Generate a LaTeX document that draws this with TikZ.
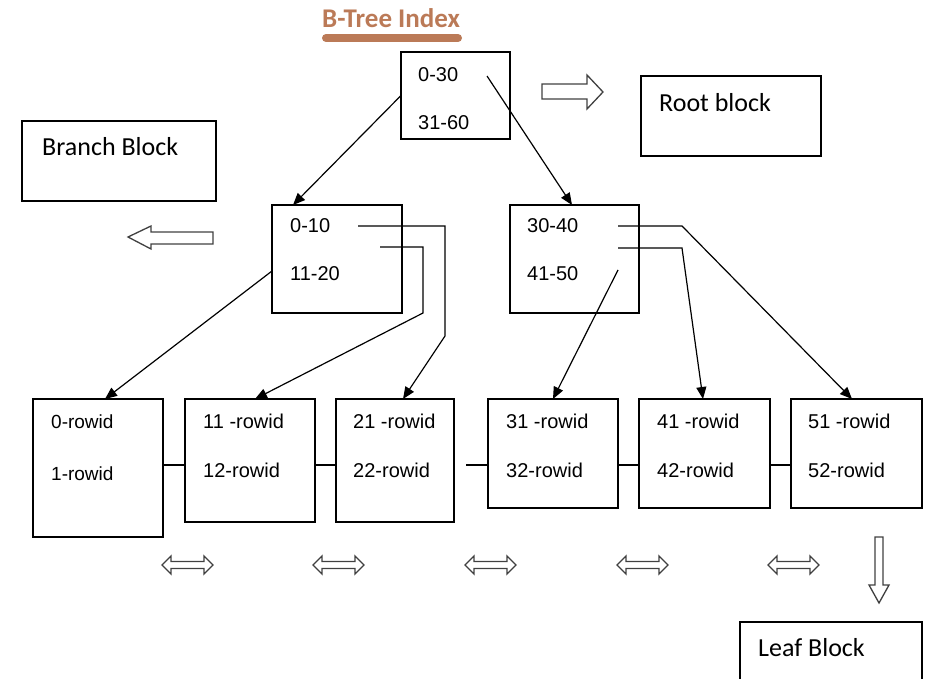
\documentclass[tikz,border=0pt]{standalone}
\usepackage{fontspec}
\setmainfont{Liberation Sans}
\newfontfamily\calibri{Carlito}
\usetikzlibrary{arrows.meta}
\definecolor{titlebrown}{RGB}{187,122,87}

\begin{document}
\begin{tikzpicture}[x=1pt, y=-1pt,
    box/.style={draw, line width=1.3pt, anchor=north west, inner sep=0pt, outer sep=0pt},
    lbl/.style={anchor=west, inner sep=0pt, font=\fontsize{20}{24}\selectfont},
    blk/.style={anchor=west, inner sep=0pt, font=\calibri\fontsize{26}{30}\selectfont},
    arr/.style={-{Triangle[length=12pt,width=10pt]}, line width=1.2pt},
    link/.style={line width=1.3pt},
    hollow/.style={draw=black!75, line width=1.3pt, line join=miter}]
  \useasboundingbox (0,0) rectangle (935,679);
  \clip (0,0) rectangle (935,679);

  % title
  \node[blk, font=\calibri\bfseries\fontsize{27}{32}\selectfont, text=titlebrown] (title) at (322,18) {B-Tree Index};
  \draw[titlebrown, line width=8pt, line cap=round] (326,38) -- (458,38);

  % index blocks
  \node[box, minimum width=109pt, minimum height=87pt] (root) at (401,52) {};
  \node[box, minimum width=130pt, minimum height=108pt] (br1) at (272,205) {};
  \node[box, minimum width=129pt, minimum height=108pt] (br2) at (510,205) {};
  \node[box, minimum width=130pt, minimum height=138pt] (leaf1) at (33,399) {};
  \node[box, minimum width=130pt, minimum height=123pt] (leaf2) at (185,399) {};
  \node[box, minimum width=118pt, minimum height=123pt] (leaf3) at (336,399) {};
  \node[box, minimum width=130pt, minimum height=109pt] (leaf4) at (488,399) {};
  \node[box, minimum width=131pt, minimum height=109pt] (leaf5) at (639,399) {};
  \node[box, minimum width=131pt, minimum height=109pt] (leaf6) at (791,399) {};

  \node[lbl] (rt1) at (418,75) {0-30};
  \node[lbl] (rt2) at (418,123) {31-60};
  \node[lbl] (b11) at (290,226) {0-10};
  \node[lbl] (b12) at (290,274) {11-20};
  \node[lbl] (b21) at (527,226) {30-40};
  \node[lbl] (b22) at (527,274) {41-50};
  \node[lbl, font=\fontsize{19}{23}\selectfont] (l11) at (51,422) {0-rowid};
  \node[lbl, font=\fontsize{19}{23}\selectfont] (l12) at (51,474) {1-rowid};
  \foreach \x/\a/\b [count=\i from 2] in {203/11 -rowid/12-rowid, 353/21 -rowid/22-rowid,
      506/31 -rowid/32-rowid, 657/41 -rowid/42-rowid, 808/51 -rowid/52-rowid} {
    \node[lbl] (l\i1) at (\x,421) {\a};
    \node[lbl] (l\i2) at (\x,470) {\b};
  }

  % legend blocks
  \node[box, minimum width=194pt, minimum height=80pt] (branchbox) at (22,121) {};
  \node[box, minimum width=180pt, minimum height=80pt] (rootbox) at (641,76) {};
  \node[box, minimum width=182pt, minimum height=80pt] (leafbox) at (740,622) {};
  \node[blk] (branchtxt) at (42,147) {Branch Block};
  \node[blk] (roottxt) at (659,103) {Root block};
  \node[blk] (leaftxt) at (758,648) {Leaf Block};

  % pointers
  \coordinate (p0030) at (487,76);
  \coordinate (p010a) at (358,226);
  \coordinate (p010b) at (380,247);
  \coordinate (p3040a) at (618,226);
  \coordinate (p3040b) at (618,248);
  \coordinate (p4150) at (618,270);
  \draw[arr] (root.west) -- ([xshift=21pt]br1.north west);
  \draw[arr] (p0030) -- ([xshift=62pt]br2.north west);
  \draw[arr] ([yshift=-12pt]br1.west) -- ([xshift=72pt]leaf1.north west);
  \draw[arr] (p010b) -| (423,313) -- ([xshift=70pt]leaf2.north west);
  \draw[arr] (p010a) -| (445,336) -- ([xshift=67pt]leaf3.north west);
  \draw[arr] (p4150) -- ([xshift=65pt]leaf4.north west);
  \draw[arr] (p3040b) -- (682,248) -- ([xshift=64pt]leaf5.north west);
  \draw[arr] (p3040a) -- (682,226) -- ([xshift=61pt]leaf6.north west);

  % leaf chain
  \coordinate (chain) at (0,465);
  \coordinate (gap) at (466,465);
  \draw[link] (leaf1.east |- chain) -- (leaf2.west |- chain);
  \draw[link] (leaf2.east |- chain) -- (leaf3.west |- chain);
  \draw[link] (gap) -- (leaf4.west |- chain);
  \draw[link] (leaf4.east |- chain) -- (leaf5.west |- chain);
  \draw[link] (leaf5.east |- chain) -- (leaf6.west |- chain);

  % hollow arrows
  \draw[hollow] (603,92) -- (587,75) -- (587,84) -- (542,84) -- (542,99) -- (587,99) -- (587,109) -- cycle;
  \draw[hollow] (128,237) -- (151,226) -- (151,232) -- (213,232) -- (213,244) -- (151,244) -- (151,249) -- cycle;
  \draw[hollow] (879,603) -- (869,585) -- (875,585) -- (875,537) -- (883,537) -- (883,585) -- (889,585) -- cycle;
  \foreach \x in {162,313,465,617,768}
    \draw[hollow] (\x,565) -- (\x+9,556) -- (\x+9,561.5) -- (\x+42,561.5) -- (\x+42,556)
      -- (\x+51,565) -- (\x+42,574) -- (\x+42,568.5) -- (\x+9,568.5) -- (\x+9,574) -- cycle;
\end{tikzpicture}
\end{document}
